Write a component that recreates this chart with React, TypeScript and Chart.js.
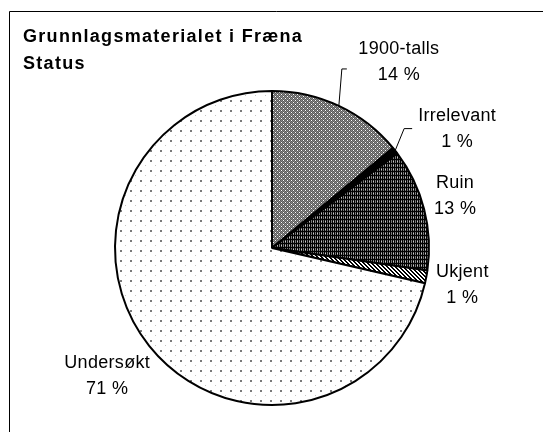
import React, { useEffect, useRef } from "react";
import { Chart, registerables } from "chart.js";

Chart.register(...registerables);

const categories = ["1900-talls", "Irrelevant", "Ruin", "Ukjent", "Undersøkt"];
const shares = [14.0, 0.7, 12.6, 1.3, 71.4];
const titleLines = ["Grunnlagsmaterialet i Fræna", "Status"];

// label layout relative to the slice's mid-point on the rim
const labelLayout = [
  { dx: 60, dy: -52, leader: [[3, -37], [8, -37]] },
  { dx: 62, dy: -30, leader: [[9, -22], [17, -22]] },
  { dx: 31, dy: -21 },
  { dx: 36, dy: 0 },
  { dx: -42, dy: 22 },
];

function makePattern(kind: string): CanvasPattern | string {
  const c = document.createElement("canvas");
  const ctx = c.getContext("2d")!;
  if (kind === "gray") {
    c.width = 4; c.height = 4;
    ctx.fillStyle = "#8a8a8a"; ctx.fillRect(0, 0, 4, 4);
    for (let y = 0; y < 4; y++) for (let x = 0; x < 4; x++) {
      if ((x + y) % 2 === 0) { ctx.fillStyle = "#5a5a5a"; ctx.fillRect(x, y, 1, 1); }
    }
    ctx.fillStyle = "#ffffff"; ctx.fillRect(1, 2, 1, 1); ctx.fillRect(3, 0, 1, 1);
  } else if (kind === "dark") {
    c.width = 4; c.height = 4;
    ctx.fillStyle = "#000000"; ctx.fillRect(0, 0, 4, 4);
    ctx.fillStyle = "#7a7a7a"; ctx.fillRect(1, 0, 1, 4); ctx.fillRect(3, 0, 1, 4);
    ctx.fillStyle = "#000000"; ctx.fillRect(0, 3, 4, 1);
    ctx.fillStyle = "#c8c8c8"; ctx.fillRect(1, 1, 1, 1);
  } else if (kind === "hatch") {
    c.width = 4; c.height = 4;
    ctx.fillStyle = "#ffffff"; ctx.fillRect(0, 0, 4, 4);
    ctx.fillStyle = "#000000";
    for (let i = 0; i < 4; i++) ctx.fillRect(i, i, 1, 1);
    for (let i = 0; i < 4; i++) ctx.fillRect((i + 1) % 4, i, 1, 1);
  } else if (kind === "dots") {
    c.width = 10; c.height = 10;
    ctx.fillStyle = "#ffffff"; ctx.fillRect(0, 0, 10, 10);
    ctx.fillStyle = "#7a7a7a"; ctx.fillRect(0, 0, 2, 2);
    ctx.fillStyle = "#c4c4c4"; ctx.fillRect(5, 5, 1, 1);
  } else {
    return "#000000";
  }
  const p = document.createElement("canvas").getContext("2d")!.createPattern(c, "repeat");
  return p || "#888";
}

export default function App() {
  const ref = useRef<HTMLCanvasElement | null>(null);
  useEffect(() => {
    document.body.style.margin = "0";
    const canvas = ref.current!;
    const fills = [makePattern("gray"), makePattern("black"), makePattern("dark"), makePattern("hatch"), makePattern("dots")];

    const overlay = {
      id: "overlay",
      afterDraw(chart: any) {
        const ctx = chart.ctx as any;
        ctx.save();
        // frame
        ctx.strokeStyle = "#000";
        ctx.lineWidth = 1;
        ctx.beginPath();
        ctx.moveTo(9.5, chart.height);
        ctx.lineTo(9.5, 11.5);
        ctx.lineTo(chart.width, 11.5);
        ctx.stroke();
        // title
        ctx.fillStyle = "#000";
        ctx.font = "bold 18px 'Liberation Sans', Arial, sans-serif";
        ctx.letterSpacing = "1.3px";
        ctx.textAlign = "left";
        ctx.textBaseline = "alphabetic";
        titleLines.forEach((t, i) => ctx.fillText(t, 23, 42 + i * 27));
        // labels
        const meta = chart.getDatasetMeta(0);
        const total = shares.reduce((a, b) => a + b, 0);
        ctx.font = "18px 'Liberation Sans', Arial, sans-serif";
        ctx.letterSpacing = "0.3px";
        ctx.textAlign = "center";
        meta.data.forEach((arc: any, i: number) => {
          const p = arc.getProps(["x", "y", "startAngle", "endAngle", "outerRadius"], true);
          const mid = (p.startAngle + p.endAngle) / 2;
          const ax = p.x + Math.cos(mid) * p.outerRadius;
          const ay = p.y + Math.sin(mid) * p.outerRadius;
          const L = labelLayout[i];
          const pct = Math.round((shares[i] / total) * 100);
          ctx.fillText(categories[i], ax + L.dx, ay + L.dy);
          ctx.fillText(pct + " %", ax + L.dx, ay + L.dy + 26);
          if (L.leader) {
            ctx.beginPath();
            ctx.lineWidth = 1;
            ctx.moveTo(ax, ay);
            L.leader.forEach(([lx, ly]) => ctx.lineTo(ax + lx, ay + ly));
            ctx.stroke();
          }
        });
        ctx.restore();
      },
    };

    const chart = new Chart(canvas, {
      type: "pie",
      data: {
        labels: categories,
        datasets: [{
          data: shares,
          backgroundColor: fills as any,
          borderColor: "#000",
          borderWidth: 2,
        }],
      },
      options: {
        responsive: false,
        animation: false,
        events: [],
        layout: { padding: { left: 114, right: 113, top: 90, bottom: 26 } },
        plugins: { legend: { display: false }, tooltip: { enabled: false }, title: { display: false } },
      },
      plugins: [overlay],
    });
    return () => chart.destroy();
  }, []);
  return (
    <div style={{ position: "fixed", left: 0, top: 0, width: 543, height: 432, background: "#fff" }}>
      <canvas ref={ref} width={543} height={432} />
    </div>
  );
}
